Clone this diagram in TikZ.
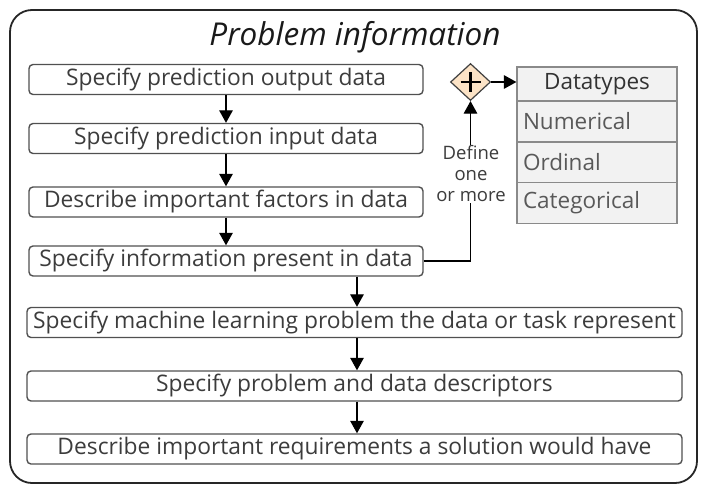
\documentclass[tikz,border=0pt]{standalone}
\usepackage{fontspec}
\setmainfont{Open Sans}
\usetikzlibrary{arrows.meta,shapes.geometric}
\definecolor{boxline}{HTML}{505050}
\definecolor{boxtext}{HTML}{3C3C3C}
\definecolor{tabfill}{HTML}{F2F2F2}
\definecolor{tabline}{HTML}{8A8A8A}
\definecolor{peach}{HTML}{FCE3C6}
\tikzset{
  x=1pt, y=-1pt,
  stepbox/.style={draw=boxline, line width=1.4pt, rounded corners=4pt, minimum height=30pt, inner sep=0pt, text=boxtext, font=\fontsize{22.8}{26}\selectfont},
  shortbox/.style={stepbox, minimum width=394pt},
  longbox/.style={stepbox, minimum width=655pt},
  flow/.style={line width=1.3pt, -{Triangle[length=12.5pt,width=13.5pt]}},
  tabcell/.style={draw=tabline, fill=tabfill, line width=1.2pt, minimum width=160pt, inner sep=0pt, text=boxtext!85, font=\fontsize{22.5}{26}\selectfont},
}
\begin{document}
\begin{tikzpicture}
\useasboundingbox (0,0) rectangle (704,485);
\draw[line width=1.8pt, draw=black!85, rounded corners=22pt] (10,10) rectangle (697,483);
\node[font=\fontsize{31.5}{34}\selectfont\itshape, text=black!90] (title) at (355,37) {Problem information};

\node[shortbox] (b1) at (226,79.5) {Specify prediction output data};
\node[shortbox] (b2) at (226,138.5) {Specify prediction input data};
\node[shortbox] (b3) at (226,202) {Describe important factors in data};
\node[shortbox] (b4) at (226,261) {Specify information present in data};
\node[longbox] (b5) at (354.5,322.5) {Specify machine learning problem the data or task represent};
\node[longbox] (b6) at (354.5,386) {Specify problem and data descriptors};
\node[longbox] (b7) at (354.5,449) {Describe important requirements a solution would have};

\draw[flow] (b1) -- (b2);
\draw[flow] (b2) -- (b3);
\draw[flow] (b3) -- (b4);
\draw[flow] (b4.south -| 357,0) -- (b5.north -| 357,0);
\draw[flow] (b5.south -| 357,0) -- (b6.north -| 357,0);
\draw[flow] (b6.south -| 357,0) -- (b7.north -| 357,0);

\node[diamond, draw=black!75, fill=peach, line width=1.2pt, minimum width=40pt, minimum height=37pt, inner sep=0pt] (gw) at (470.5,82) {};
\draw[line width=2.8pt] (gw.center) ++(-10,0) -- ++(20,0);
\draw[line width=2.8pt] (gw.center) ++(0,-10) -- ++(0,20);

\node[tabcell, minimum height=34pt, text=black!80] (th) at (597,84) {Datatypes};
\node[tabcell, minimum height=41pt, text width=148pt, align=left] (t1) at (597,121.5) {Numerical};
\node[tabcell, minimum height=41pt, text width=148pt, align=left] (t2) at (597,162.5) {Ordinal};
\node[tabcell, minimum height=41pt, text width=148pt, align=left] (t3) at (597,203) {Categorical};

\draw[flow] (gw.east) -- (th.west |- gw.east);
\draw[flow, line width=1.2pt] (b4.east) -| (gw.south);
\node[fill=white, inner sep=1pt, align=center, text=boxtext, font=\fontsize{18.5}{21}\selectfont] (lbl) at (471,174) {Define\\one\\or more};
\end{tikzpicture}
\end{document}
